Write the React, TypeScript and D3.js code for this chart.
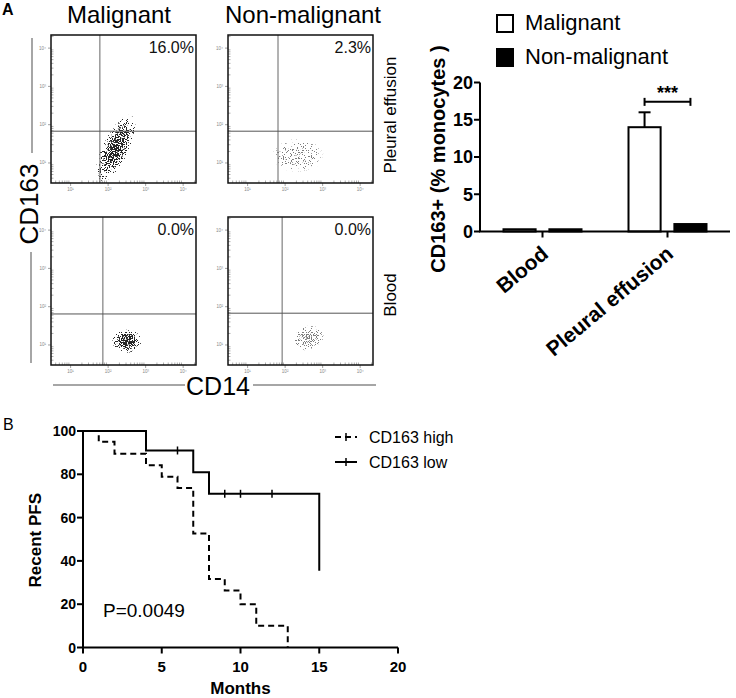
import React from 'react';
import * as d3 from 'd3';

const FONT = "'Liberation Sans', Arial, Helvetica, sans-serif";

// ---- A: flow plots ----
const flowColumns = ['Malignant', 'Non-malignant'];
const flowRows = ['Pleural effusion', 'Blood'];
const flowPercents = [['16.0%', '2.3%'], ['0.0%', '0.0%']];
const flowDecades = [1, 2, 3, 4];
// quadrant gates in log10 units [CD14, CD163]
const flowGates = [
  [[1.78, 1.83], [1.81, 1.83]],
  [[1.86, 1.81], [1.92, 1.83]],
];
// cell clouds in log10 units: centre, half axes, tilt (deg), density
const flowClouds = [
  [
    { cd14: 2.2, cd163: 1.38, along: 1.0, across: 0.36, tilt: 64, density: 0.78 },
    { cd14: 2.34, cd163: 1.2, along: 0.7, across: 0.46, tilt: 0, density: 0.3 },
  ],
  [
    { cd14: 2.5, cd163: 1.1, along: 0.4, across: 0.32, tilt: 0, density: 0.82 },
    { cd14: 2.63, cd163: 1.18, along: 0.42, across: 0.34, tilt: 15, density: 0.5 },
  ],
];

// ---- A: bar chart ----
const barCategories = ['Blood', 'Pleural effusion'];
const barSeries = ['Malignant', 'Non-malignant'];
const malignantValues = [0.3, 14.0];
const nonMalignantValues = [0.3, 1.0];
const malignantErrors = [0, 2.0];
const barTicks = [0, 5, 10, 15, 20];

// ---- B: Kaplan-Meier ----
const kmMonthTicks = [0, 5, 10, 15, 20];
const kmPfsTicks = [0, 20, 40, 60, 80, 100];
const highMonths = [0, 1, 2, 4, 5, 6, 7, 8, 9, 10, 11, 13];
const highPfs = [100, 95, 89.5, 84.2, 78.9, 73.7, 52.6, 31.6, 26.3, 20, 10, 0];
const lowMonths = [0, 4, 7, 8, 15];
const lowPfs = [100, 91, 81, 71, 35.5];
const lowCensored = [6, 9, 10, 12];

const panelW = 145;
const panelH = 148;
const panelX = [51, 228];
const panelY = [35, 217];

const fx = d3.scaleLog().domain([3, 22000]).range([0, panelW]);
const fy = d3.scaleLog().domain([3, 22000]).range([panelH, 0]);
const pxPerDecade = fx(1000) - fx(100);
const sup = ['⁰', '¹', '²', '³', '⁴'];

const minorValues: number[] = [];
[0, 1, 2, 3, 4].forEach(d => {
  for (let k = 2; k <= 9; k++) {
    const v = k * Math.pow(10, d);
    if (v > 3 && v < 22000) minorValues.push(v);
  }
});

function FlowPanel({ row, col }: { row: number; col: number }) {
  const gate = flowGates[row][col];
  const cloud = flowClouds[row][col];
  const id = `cloud-${row}-${col}`;
  const cx = fx(Math.pow(10, cloud.cd14));
  const cy = fy(Math.pow(10, cloud.cd163));
  const dark = col === 0;
  return (
    <g transform={`translate(${panelX[col]},${panelY[row]})`}>
      <defs>
        <radialGradient id={id}>
          <stop offset="0" stopColor="#000" stopOpacity={cloud.density} />
          <stop offset="0.5" stopColor="#000" stopOpacity={cloud.density * 0.72} />
          <stop offset="1" stopColor="#000" stopOpacity={0} />
        </radialGradient>
      </defs>
      <g opacity={dark ? 0.85 : 0.5} filter="url(#speckle)">
        <g transform={`translate(${cx},${cy}) rotate(${-cloud.tilt})`}>
          <ellipse rx={cloud.along * pxPerDecade} ry={cloud.across * pxPerDecade} fill={`url(#${id})`} />
        </g>
      </g>
      {/* gates */}
      <line x1={fx(Math.pow(10, gate[0]))} x2={fx(Math.pow(10, gate[0]))} y1={0} y2={panelH} stroke="#666" strokeWidth={1} />
      <line x1={0} x2={panelW} y1={fy(Math.pow(10, gate[1]))} y2={fy(Math.pow(10, gate[1]))} stroke="#555" strokeWidth={1} />
      {/* minor ticks */}
      {minorValues.map(v => (
        <g key={v}>
          <line x1={fx(v)} x2={fx(v)} y1={panelH} y2={panelH - 2.5} stroke="#777" strokeWidth={0.6} />
          <line x1={0} x2={2.5} y1={fy(v)} y2={fy(v)} stroke="#777" strokeWidth={0.6} />
        </g>
      ))}
      {flowDecades.map(d => (
        <g key={d} fill="#888" fontSize={4.5} fontFamily={FONT}>
          <line x1={fx(Math.pow(10, d))} x2={fx(Math.pow(10, d))} y1={panelH} y2={panelH + 3} stroke="#888" strokeWidth={0.8} />
          <text x={fx(Math.pow(10, d))} y={panelH + 7.5} textAnchor="middle">10{sup[d]}</text>
          <line x1={-3} x2={0} y1={fy(Math.pow(10, d))} y2={fy(Math.pow(10, d))} stroke="#888" strokeWidth={0.8} />
          <text x={-5} y={fy(Math.pow(10, d)) + 1.5} textAnchor="end">10{sup[d]}</text>
        </g>
      ))}
      <rect x={0} y={0} width={panelW} height={panelH} fill="none" stroke="#111" strokeWidth={1.5} />
      <text x={panelW - 2} y={18} textAnchor="end" fontSize={16} fontFamily={FONT} fill="#111">
        {flowPercents[row][col]}
      </text>
    </g>
  );
}

function FlowFigure() {
  return (
    <g>
      <text x={2} y={15} fontSize={16} fontWeight="bold" fontFamily={FONT}>A</text>
      {flowColumns.map((c, i) => (
        <text key={c} x={i === 0 ? 119 : 303} y={23} textAnchor="middle" fontSize={24} fontFamily={FONT}>{c}</text>
      ))}
      {flowRows.map((r, i) => (
        <text key={r} transform={`translate(396,${panelY[i] + panelH / 2 + (i === 0 ? 6 : 4)}) rotate(-90)`}
          textAnchor="middle" fontSize={17} fontFamily={FONT}>{r}</text>
      ))}
      {[0, 1].map(row => [0, 1].map(col => <FlowPanel key={`${row}-${col}`} row={row} col={col} />))}
      {/* axis titles with rules */}
      <line x1={32} x2={32} y1={38} y2={153} stroke="#888" strokeWidth={1.5} />
      <line x1={31} x2={31} y1={252} y2={363} stroke="#888" strokeWidth={1.5} />
      <text transform="translate(38,204) rotate(-90)" textAnchor="middle" fontSize={26} fontFamily={FONT}>CD163</text>
      <line x1={53} x2={185} y1={385} y2={385} stroke="#888" strokeWidth={1.5} />
      <line x1={253} x2={376} y1={385} y2={385} stroke="#888" strokeWidth={1.5} />
      <text x={218} y={395} textAnchor="middle" fontSize={25} fontFamily={FONT}>CD14</text>
    </g>
  );
}

function BarFigure() {
  const by = d3.scaleLinear().domain([0, 20]).range([231.5, 82.5]);
  const bx0 = d3.scaleBand().domain(barCategories).range([480, 730]).paddingInner(0.376).paddingOuter(0.188);
  const bx1 = d3.scaleBand().domain(barSeries).range([0, bx0.bandwidth()]).paddingInner(0.3);
  const mCenter = (bx0('Pleural effusion') as number) + (bx1('Malignant') as number) + bx1.bandwidth() / 2;
  const nCenter = (bx0('Pleural effusion') as number) + (bx1('Non-malignant') as number) + bx1.bandwidth() / 2;
  const sigY = by(17.4);
  return (
    <g fontFamily={FONT}>
      {/* legend */}
      <rect x={497} y={15} width={16} height={17} fill="#fff" stroke="#000" strokeWidth={2} />
      <text x={525} y={30} fontSize={22}>Malignant</text>
      <rect x={497} y={49} width={16} height={17} fill="#000" stroke="#000" strokeWidth={2} />
      <text x={525} y={64} fontSize={22}>Non-malignant</text>

      {barCategories.map((cat, i) => {
        const x0 = bx0(cat) as number;
        const xm = x0 + (bx1('Malignant') as number);
        const xn = x0 + (bx1('Non-malignant') as number);
        const w = bx1.bandwidth();
        return (
          <g key={cat}>
            {malignantErrors[i] > 0 && (
              <g stroke="#000" strokeWidth={2}>
                <line x1={xm + w / 2} x2={xm + w / 2} y1={by(malignantValues[i])} y2={by(malignantValues[i] + malignantErrors[i])} />
                <line x1={xm + w / 2 - 6} x2={xm + w / 2 + 6} y1={by(malignantValues[i] + malignantErrors[i])} y2={by(malignantValues[i] + malignantErrors[i])} />
              </g>
            )}
            <rect x={xm} y={by(malignantValues[i])} width={w} height={by(0) - by(malignantValues[i])}
              fill="#fff" stroke="#000" strokeWidth={2} />
            <rect x={xn} y={by(nonMalignantValues[i])} width={w} height={by(0) - by(nonMalignantValues[i])}
              fill="#000" stroke="#000" strokeWidth={2} />
          </g>
        );
      })}

      {/* significance */}
      <g stroke="#000" strokeWidth={2}>
        <line x1={mCenter} x2={nCenter} y1={sigY} y2={sigY} />
        <line x1={mCenter} x2={mCenter} y1={sigY - 4} y2={sigY + 4} />
        <line x1={nCenter} x2={nCenter} y1={sigY - 4} y2={sigY + 4} />
      </g>
      <text x={(mCenter + nCenter) / 2} y={99} textAnchor="middle" fontSize={18} fontWeight="bold">***</text>

      {/* axes */}
      <line x1={480} x2={480} y1={by(0)} y2={by(20)} stroke="#000" strokeWidth={2} />
      <line x1={479} x2={730} y1={by(0)} y2={by(0)} stroke="#000" strokeWidth={2} />
      {barTicks.map(t => (
        <g key={t}>
          <line x1={474} x2={480} y1={by(t)} y2={by(t)} stroke="#000" strokeWidth={2} />
          <text x={473} y={by(t)} dy="0.36em" textAnchor="end" fontSize={18} fontWeight="bold">{t}</text>
        </g>
      ))}
      {barCategories.map(cat => {
        const c = (bx0(cat) as number) + bx0.bandwidth() / 2;
        return (
          <g key={cat}>
            <line x1={c} x2={c} y1={by(0)} y2={by(0) + 6} stroke="#000" strokeWidth={2} />
            <text transform={`translate(${c + 7},256) rotate(-40)`} textAnchor="end" fontSize={21} fontWeight="bold">{cat}</text>
          </g>
        );
      })}
      <text transform={`translate(445,159) rotate(-90)`} textAnchor="middle" fontSize={20} fontWeight="bold">
        CD163+ (% monocytes )
      </text>
    </g>
  );
}

function KMFigure() {
  const kx = d3.scaleLinear().domain([0, 20]).range([83, 398]);
  const ky = d3.scaleLinear().domain([0, 100]).range([647.5, 431]);
  const step = d3.line<[number, number]>().x(d => kx(d[0])).y(d => ky(d[1])).curve(d3.curveStepAfter);
  const high = highMonths.map((m, i) => [m, highPfs[i]] as [number, number]);
  const low = lowMonths.map((m, i) => [m, lowPfs[i]] as [number, number]);
  const lowAt = (t: number) => {
    let v = lowPfs[0];
    lowMonths.forEach((m, i) => { if (m <= t) v = lowPfs[i]; });
    return v;
  };
  return (
    <g fontFamily={FONT}>
      <text x={3} y={430} fontSize={16} fontFamily={FONT}>B</text>
      <path d={step(high) as string} fill="none" stroke="#000" strokeWidth={2} strokeDasharray="6,4" />
      <path d={step(low) as string} fill="none" stroke="#000" strokeWidth={2} />
      {lowCensored.map(t => (
        <line key={t} x1={kx(t)} x2={kx(t)} y1={ky(lowAt(t)) - 4} y2={ky(lowAt(t)) + 4} stroke="#000" strokeWidth={1.5} />
      ))}

      {/* axes */}
      <line x1={kx(0)} x2={kx(0)} y1={ky(0)} y2={ky(100)} stroke="#000" strokeWidth={2} />
      <line x1={kx(0) - 1} x2={kx(20)} y1={ky(0)} y2={ky(0)} stroke="#000" strokeWidth={2} />
      {kmPfsTicks.map(t => (
        <g key={t}>
          <line x1={kx(0) - 6} x2={kx(0)} y1={ky(t)} y2={ky(t)} stroke="#000" strokeWidth={2} />
          <text x={kx(0) - 7} y={ky(t)} dy="0.36em" textAnchor="end" fontSize={14} fontWeight="bold">{t}</text>
        </g>
      ))}
      {kmMonthTicks.map(t => (
        <g key={t}>
          <line x1={kx(t)} x2={kx(t)} y1={ky(0)} y2={ky(0) + 6} stroke="#000" strokeWidth={2} />
          <text x={kx(t)} y={672} textAnchor="middle" fontSize={15} fontWeight="bold">{t}</text>
        </g>
      ))}
      <text x={kx(10)} y={694} textAnchor="middle" fontSize={17} fontWeight="bold">Months</text>
      <text transform={`translate(41,${ky(50) + 1}) rotate(-90)`} textAnchor="middle" fontSize={17} fontWeight="bold">Recent PFS</text>
      <text x={103} y={617} fontSize={19}>P=0.0049</text>

      {/* legend */}
      <line x1={335} x2={357} y1={437} y2={437} stroke="#000" strokeWidth={2} strokeDasharray="6,4" />
      <line x1={346} x2={346} y1={433} y2={441} stroke="#000" strokeWidth={1.5} />
      <text x={369} y={443} fontSize={16}>CD163 high</text>
      <line x1={335} x2={357} y1={462} y2={462} stroke="#000" strokeWidth={2} />
      <line x1={346} x2={346} y1={458} y2={466} stroke="#000" strokeWidth={1.5} />
      <text x={369} y={468} fontSize={16}>CD163 low</text>
    </g>
  );
}

export default function App() {
  return (
    <svg width={736} height={698} style={{ position: 'absolute', left: 0, top: 0, background: '#fff' }}>
      <defs>
        <filter id="speckle" x="-20%" y="-20%" width="140%" height="140%" colorInterpolationFilters="sRGB">
          <feTurbulence type="fractalNoise" baseFrequency="0.85" numOctaves={1} seed={4} result="noise" />
          <feColorMatrix in="noise" type="matrix" values="0 0 0 0 0  0 0 0 0 0  0 0 0 0 0  3 0 0 0 -1" result="n" />
          <feComposite in="SourceAlpha" in2="n" operator="arithmetic" k1={0} k2={1} k3={-1} k4={0} result="d" />
          <feComponentTransfer in="d">
            <feFuncA type="linear" slope={10} intercept={0} />
          </feComponentTransfer>
        </filter>
      </defs>
      <rect width={736} height={698} fill="#fff" />
      <FlowFigure />
      <BarFigure />
      <KMFigure />
    </svg>
  );
}
